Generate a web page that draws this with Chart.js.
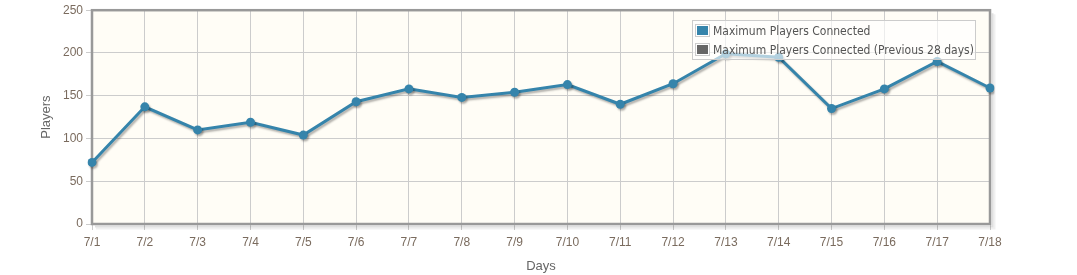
<!DOCTYPE html>
<html>
<head>
<meta charset="utf-8">
<script src="https://cdn.jsdelivr.net/npm/chart.js@4/dist/chart.umd.min.js"></script>
<style>
  html, body { margin: 0; padding: 0; background: #ffffff; }
  #wrap { width: 1077px; height: 275px; position: relative; }
</style>
</head>
<body>
<div id="wrap"><canvas id="c" width="1077" height="275"></canvas></div>
<script>
const categories = ['7/1','7/2','7/3','7/4','7/5','7/6','7/7','7/8','7/9','7/10','7/11','7/12','7/13','7/14','7/15','7/16','7/17','7/18'];
const maxPlayers = [72, 137, 110, 119, 104, 143, 158, 148, 154, 163, 140, 164, 199, 195, 135, 158, 190, 159];
const maxPlayersPrev28 = [];
const seriesLabels = ['Maximum Players Connected', 'Maximum Players Connected (Previous 28 days)'];
const yTicks = [0, 50, 100, 150, 200, 250];
const axisTitles = { x: 'Days', y: 'Players' };

const plotDecor = {
  id: 'plotDecor',
  beforeDraw(chart) {
    const {ctx, chartArea: a} = chart;
    ctx.save();
    ctx.fillStyle = '#fffdf6';
    ctx.fillRect(a.left, a.top, a.right - a.left, a.bottom - a.top);
    ctx.restore();
  },
  beforeDatasetsDraw(chart) {
    const {ctx, chartArea: a} = chart;
    ctx.save();
    ctx.strokeStyle = 'rgba(0,0,0,0.12)';
    ctx.lineWidth = 2;
    ctx.beginPath();
    ctx.moveTo(a.right + 2.5, a.top + 3);
    ctx.lineTo(a.right + 2.5, a.bottom + 2.5);
    ctx.lineTo(a.left + 3, a.bottom + 2.5);
    ctx.stroke();
    ctx.strokeStyle = 'rgba(0,0,0,0.06)';
    ctx.beginPath();
    ctx.moveTo(a.right + 4.5, a.top + 4);
    ctx.lineTo(a.right + 4.5, a.bottom + 4.5);
    ctx.lineTo(a.left + 4, a.bottom + 4.5);
    ctx.stroke();
    ctx.strokeStyle = '#999999';
    ctx.lineWidth = 2.5;
    ctx.strokeRect(a.left, a.top, a.right - a.left, a.bottom - a.top);
    ctx.restore();
  },
  beforeDatasetDraw(chart) {
    const ctx = chart.ctx;
    ctx.save();
    ctx.shadowColor = 'rgba(0,0,0,0.3)';
    ctx.shadowOffsetX = 1.5;
    ctx.shadowOffsetY = 2;
    ctx.shadowBlur = 2;
  },
  afterDatasetDraw(chart) {
    chart.ctx.restore();
  }
};

const insideLegend = {
  id: 'insideLegend',
  afterDatasetsDraw(chart) {
    const {ctx} = chart;
    const x = 692, y = 20, w = 284, h = 40;
    ctx.save();
    ctx.fillStyle = 'rgba(255,255,255,0.62)';
    ctx.fillRect(x, y, w, h);
    ctx.strokeStyle = '#cccccc';
    ctx.lineWidth = 1;
    ctx.strokeRect(x + 0.5, y + 0.5, w - 1, h - 1);
    ctx.font = '12px "DejaVu Sans Condensed", "DejaVu Sans", sans-serif';
    ctx.textBaseline = 'middle';
    chart.data.datasets.forEach((ds, i) => {
      const ry = y + 4 + i * 19;
      ctx.fillStyle = '#ffffff';
      ctx.fillRect(x + 3, ry, 15, 13);
      ctx.strokeStyle = '#cccccc';
      ctx.strokeRect(x + 3.5, ry + 0.5, 14, 12);
      ctx.fillStyle = ds.borderColor;
      ctx.fillRect(x + 5, ry + 2, 11, 9);
      ctx.fillStyle = '#545454';
      ctx.fillText(ds.label, x + 21, ry + 7.5);
    });
    ctx.restore();
  }
};

new Chart(document.getElementById('c'), {
  type: 'line',
  data: {
    labels: categories,
    datasets: [
      {
        label: seriesLabels[0],
        data: maxPlayers,
        borderColor: '#3584ab',
        backgroundColor: '#3584ab',
        borderWidth: 3,
        pointRadius: 4.5,
        pointHoverRadius: 4.5,
        pointBorderWidth: 0,
        tension: 0,
        fill: false
      },
      {
        label: seriesLabels[1],
        data: maxPlayersPrev28,
        borderColor: '#666666',
        backgroundColor: '#666666',
        borderWidth: 3,
        pointRadius: 4.5,
        fill: false
      }
    ]
  },
  options: {
    responsive: false,
    animation: false,
    layout: { padding: { left: 39, right: 87, top: 8, bottom: 1 } },
    plugins: { legend: { display: false }, tooltip: { enabled: false } },
    scales: {
      x: {
        type: 'category',
        offset: false,
        afterFit(s) { s.height = 50; },
        grid: { color: '#cccccc', lineWidth: 1, tickLength: 6, drawTicks: true },
        border: { display: false },
        ticks: {
          color: '#7a6b5e',
          font: { family: '"Liberation Sans", Arial, sans-serif', size: 12 },
          padding: 5,
          maxRotation: 0,
          autoSkip: false
        },
        title: {
          display: true,
          text: axisTitles.x,
          color: '#666666',
          font: { family: '"Liberation Sans", Arial, sans-serif', size: 13 },
          padding: 0
        }
      },
      y: {
        min: 0,
        max: 250,
        afterFit(s) { s.width = 53; },
        afterBuildTicks(s) { s.ticks = yTicks.map(v => ({ value: v })); },
        grid: { color: '#cccccc', lineWidth: 1, tickLength: 6 },
        border: { display: false },
        ticks: {
          color: '#7a6b5e',
          font: { family: '"Liberation Sans", Arial, sans-serif', size: 12 },
          padding: 3
        },
        title: {
          display: true,
          text: axisTitles.y,
          color: '#666666',
          font: { family: '"Liberation Sans", Arial, sans-serif', size: 13 },
          padding: 0
        }
      }
    }
  },
  plugins: [plotDecor, insideLegend]
});
</script>
</body>
</html>
